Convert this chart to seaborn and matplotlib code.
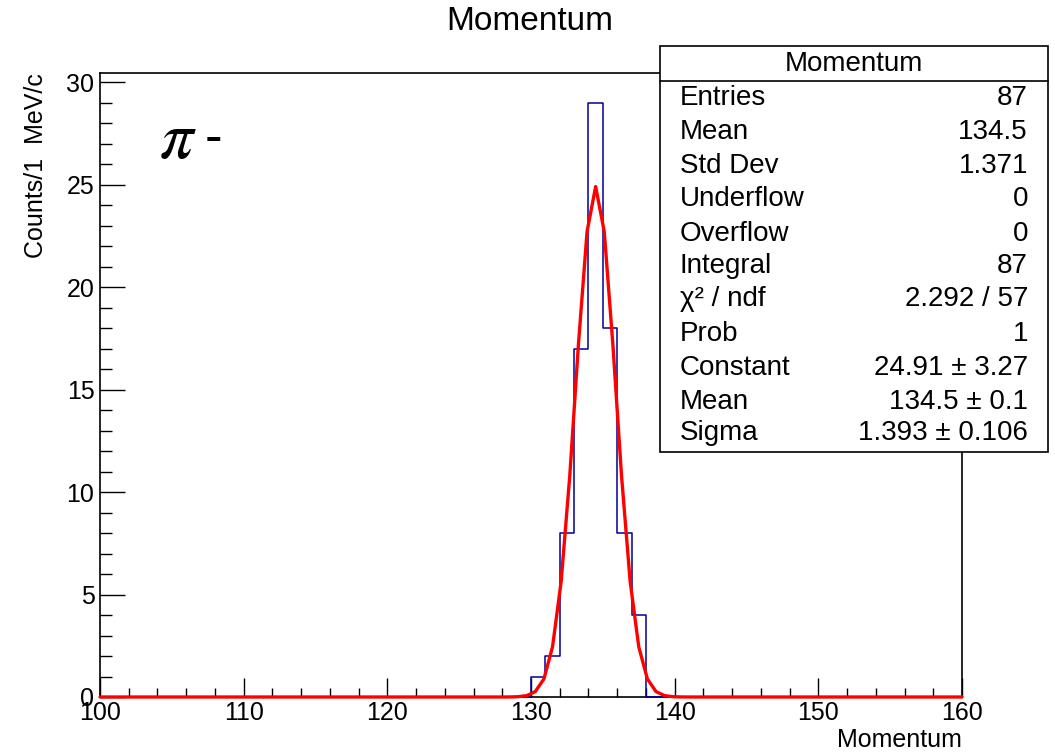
import numpy as np
import pandas as pd
import matplotlib
matplotlib.use("Agg")
import matplotlib.pyplot as plt
from matplotlib.patches import Rectangle
from matplotlib.lines import Line2D
from matplotlib.ticker import MultipleLocator
import seaborn as sns

# Histogram contents (1 MeV/c bins from 100 to 160)
bin_low = [130, 131, 132, 133, 134, 135, 136, 137]
bin_counts = [1, 2, 8, 17, 29, 18, 8, 4]

# Gaussian fit parameters
fit_constant = 24.91
fit_mean = 134.5
fit_sigma = 1.393

# Statistics box
stat_labels = ["Entries", "Mean", "Std Dev", "Underflow", "Overflow", "Integral",
               "χ² / ndf", "Prob", "Constant", "Mean", "Sigma"]
stat_values = ["87", "134.5", "1.371", "0", "0", "87", "2.292 / 57", "1",
               "24.91 ± 3.27", "134.5 ± 0.1", "1.393 ± 0.106"]

sns.set_theme(style="white")
plt.rcParams["font.family"] = ["Liberation Sans", "DejaVu Sans"]
plt.rcParams["mathtext.fontset"] = "dejavusans"
plt.rcParams["text.color"] = "black"
plt.rcParams["xtick.color"] = "black"
plt.rcParams["ytick.color"] = "black"

W, H = 1055, 754
fig = plt.figure(figsize=(W / 100, H / 100), dpi=100)
fig.patch.set_facecolor("white")


def fx(x):
    return x / W


def fy(y):
    return 1 - y / H


ax = fig.add_axes([fx(100), fy(697), fx(962) - fx(100), fy(73) - fy(697)])
ax.set_facecolor("white")

centers = [b + 0.5 for b in bin_low]
df = pd.DataFrame({"x": centers, "w": bin_counts})
sns.histplot(data=df, x="x", weights="w", binwidth=1, binrange=(100, 160),
             element="step", fill=False, color="#000099", linewidth=1.1, ax=ax)

# Fit function sampled at the centres of 100 equal steps across the range
npx = 100
step = (160 - 100) / npx
xs = np.concatenate([[100.0], 100 + (np.arange(npx) + 0.5) * step, [160.0]])
ys = fit_constant * np.exp(-0.5 * ((xs - fit_mean) / fit_sigma) ** 2)
sns.lineplot(x=xs, y=ys, color="#ff0000", linewidth=2.4, ax=ax)
for ln in ax.get_lines():
    ln.set_clip_on(False)
    ln.set_zorder(5)

ax.set_xlim(100, 160)
ax.set_ylim(0, 30.45)
ax.set_xlabel("")
ax.set_ylabel("")

ax.xaxis.set_major_locator(MultipleLocator(10))
ax.xaxis.set_minor_locator(MultipleLocator(2))
ax.yaxis.set_major_locator(MultipleLocator(5))
ax.yaxis.set_minor_locator(MultipleLocator(1))
ax.tick_params(axis="x", which="major", direction="in", length=13.5, width=1.0,
               labelsize=18, pad=3, color="black", labelcolor="black")
ax.tick_params(axis="x", which="minor", direction="in", length=6.5, width=1.0, color="black")
ax.tick_params(axis="y", which="major", direction="in", length=18, width=1.0,
               labelsize=18, pad=4, color="black", labelcolor="black")
ax.tick_params(axis="y", which="minor", direction="in", length=8.6, width=1.0, color="black")
ax.tick_params(top=False, right=False, bottom=True, left=True, which="both")
for s in ax.spines.values():
    s.set_color("black")
    s.set_linewidth(1.2)

# Titles and labels
fig.text(fx(530), fy(22), "Momentum", ha="center", va="center", fontsize=24, color="black")
fig.text(fx(962), fy(740), "Momentum", ha="right", va="center", fontsize=18, color="black")
fig.text(fx(36), fy(73), "Counts/1  MeV/c", ha="center", va="top", rotation=90,
         fontsize=18, color="black")
fig.text(fx(159), fy(141), r"$\pi$", ha="left", va="center", fontsize=48,
         color="black", math_fontfamily="stix")
fig.text(fx(205), fy(139), "-", ha="left", va="center", fontsize=38, color="black")

# Statistics box
box = Rectangle((fx(660), fy(452)), fx(1048) - fx(660), fy(46) - fy(452),
                transform=fig.transFigure, facecolor="white", edgecolor="black",
                linewidth=1.2, zorder=10)
fig.patches.append(box)
fig.lines.append(Line2D([fx(660), fx(1048)], [fy(81), fy(81)],
                        transform=fig.transFigure, color="black", linewidth=1.2, zorder=11))
fig.text(fx(854), fy(64), "Momentum", ha="center", va="center", fontsize=20,
         color="black", zorder=12)
row_y = [98, 132, 166, 199, 234, 266, 299, 334, 368, 402, 433]
for lab, val, yy in zip(stat_labels, stat_values, row_y):
    fig.text(fx(680), fy(yy), lab, ha="left", va="center", fontsize=20, color="black", zorder=12)
    fig.text(fx(1028), fy(yy), val, ha="right", va="center", fontsize=20, color="black", zorder=12)

fig.savefig("out.png", dpi=100, facecolor="white")
